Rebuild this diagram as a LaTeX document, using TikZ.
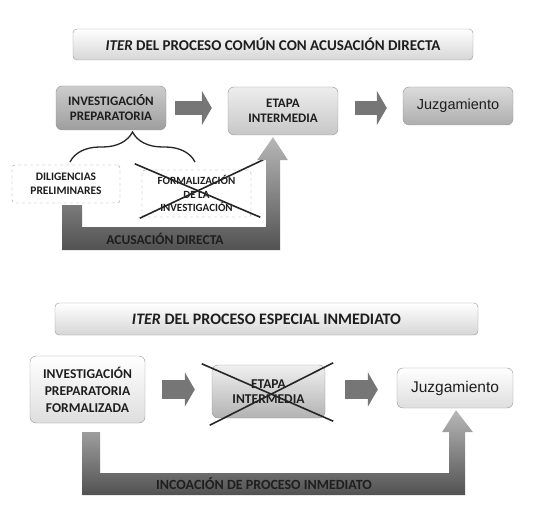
\documentclass[tikz,border=0pt]{standalone}
\usepackage{fontspec}
\setmainfont{Carlito}
\newfontfamily\arialfont{Liberation Sans}
\usepackage{tikz}
\usetikzlibrary{arrows.meta,calc,decorations.pathreplacing}
\definecolor{boxline}{RGB}{150,150,150}
\definecolor{txtgray}{RGB}{30,30,30}
\definecolor{arrowgray}{RGB}{118,118,118}

\begin{document}
\begin{tikzpicture}[x=1pt, y=-1pt,
    every node/.style={text=txtgray},
    titlebox/.style={draw=boxline, rounded corners=4pt, top color=white, bottom color=black!16, minimum height=31pt, font=\fontsize{15}{18}\selectfont\bfseries},
    stagebox/.style={draw=boxline, rounded corners=6pt, align=center, font=\fontsize{13}{15}\selectfont\bfseries},
    dashbox/.style={draw=boxline, dashed, rounded corners=3pt, fill=white, align=center, font=\fontsize{11.5}{13.5}\selectfont\bfseries},
    flatarrow/.style={draw=arrowgray, line width=14pt, -{Triangle[length=10pt 0, width=34pt 0]}},
    crossline/.style={line width=1.6pt, draw=black!85},
    lshade/.style={top color=black!28, bottom color=black!68},
    barlabel/.style={font=\fontsize{13.5}{16}\selectfont\bfseries}]
    \useasboundingbox (0,0) rectangle (551,518);

    % Common process with direct accusation
    \node[titlebox, minimum width=400pt] (t1) at (273,44.5) {\textit{ITER} DEL PROCESO COMÚN CON ACUSACIÓN DIRECTA};

    \node[stagebox, top color=black!20, bottom color=black!38, minimum width=110pt, minimum height=44pt] (ip1) at (111,108) {INVESTIGACIÓN\\PREPARATORIA};
    \node[stagebox, top color=black!7, bottom color=black!22, minimum width=110pt, minimum height=48pt] (ei1) at (283,111) {ETAPA\\INTERMEDIA};
    \node[stagebox, top color=black!14, bottom color=black!32, minimum width=110pt, minimum height=38pt, font=\arialfont\fontsize{14.5}{17}\selectfont] (jz1) at (458,106) {Juzgamiento};

    \draw[flatarrow] ($(ip1.east)+(9,0)$) -- ($(ip1.east -| ei1.west)+(-16,0)$);
    \draw[flatarrow] ($(ei1.east)+(17,-3)$) -- ($(ei1.east -| jz1.west)+(-16,-3)$);

    \node[dashbox, minimum width=108pt, minimum height=38pt] (dil) at (66,184) {DILIGENCIAS\\PRELIMINARES};
    \node[dashbox, minimum width=109pt, minimum height=47pt, font=\fontsize{11}{13.5}\selectfont\bfseries] (fp) at (196.5,193.5) {FORMALIZACIÓN\\DE LA\\INVESTIGACIÓN};

    \coordinate (bl) at (70,162);
    \coordinate (br) at (195,162);
    \draw[line width=1.3pt, black!85, decorate, decoration={brace, amplitude=30pt}] (bl) -- (br);

    \draw[crossline] ($(fp.north west)+(-7,-6)$) -- ($(fp.south east)+(9,0)$);
    \draw[crossline] ($(fp.south west)+(-2,1)$) -- ($(fp.north east)+(12,-10)$);

    \shade[lshade] ($(dil.south)+(-4,2)$) -- ++(0,45) -- ++(218,0) -- ++(0,-90) -- ++(8,0)
        -- ($(ei1.south)+(-10,2)$) -- ++(-16,23) -- ++(9,0) -- ++(0,67) -- ++(-184,0) -- ++(0,-22) -- cycle;
    \node[barlabel] (acd) at (165,239) {ACUSACIÓN DIRECTA};

    % Special immediate process
    \node[titlebox, minimum width=423pt, minimum height=32pt, font=\fontsize{16}{19}\selectfont\bfseries] (t2) at (266.5,319) {\textit{ITER} DEL PROCESO ESPECIAL INMEDIATO};

    \node[stagebox, top color=white, bottom color=black!13, minimum width=115pt, minimum height=67pt, font=\fontsize{13.5}{17}\selectfont\bfseries] (ipf) at (87.5,389.5) {INVESTIGACIÓN\\PREPARATORIA\\FORMALIZADA};
    \node[stagebox, top color=black!6, bottom color=black!30, minimum width=113pt, minimum height=53pt, font=\fontsize{13.5}{15}\selectfont\bfseries] (ei2) at (268.5,391.5) {ETAPA\\INTERMEDIA};
    \node[stagebox, top color=white, bottom color=black!13, minimum width=116pt, minimum height=40pt, font=\arialfont\fontsize{15.5}{18}\selectfont] (jz2) at (455,388) {Juzgamiento};

    \draw[flatarrow, line width=19pt] ($(ipf.east)+(17,0)$) -- ($(ipf.east -| ei2.west)+(-17,0)$);
    \draw[flatarrow, line width=19pt] ($(ei2.east |- ipf.east)+(20,0)$) -- ($(jz2.west |- ipf.east)+(-19,0)$);

    \draw[crossline] ($(ei2.north west)+(-10,-1)$) -- ($(ei2.south east)+(8,3)$);
    \draw[crossline] ($(ei2.south west)+(-2,7)$) -- ($(ei2.north east)+(8,-2)$);

    \shade[lshade] ($(ipf.south)+(-5.5,9)$) -- ++(0,63) -- ++(383,0) -- ++(0,-63) -- ++(8,0)
        -- ($(jz2.south)+(1,2)$) -- ++(-14,22) -- ++(7,0) -- ++(0,41) -- ++(-349,0) -- ++(0,-41) -- cycle;
    \node[barlabel, font=\fontsize{14}{16}\selectfont\bfseries] (inc) at (264,484) {INCOACIÓN DE PROCESO INMEDIATO};
\end{tikzpicture}
\end{document}
